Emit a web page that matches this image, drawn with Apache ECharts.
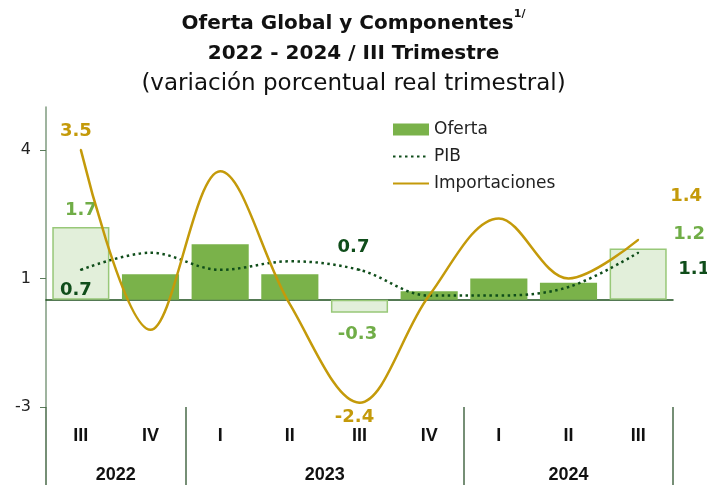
<!DOCTYPE html>
<html>
<head>
<meta charset="utf-8">
<script src="https://cdn.jsdelivr.net/npm/echarts@6/dist/echarts.min.js"></script>
<style>
  html, body { margin: 0; padding: 0; background: #fff; }
  #chart { width: 707px; height: 485px; }
</style>
</head>
<body>
<div id="chart"></div>
<script>
var quarters = ['III', 'IV', 'I', 'II', 'III', 'IV', 'I', 'II', 'III'];
var years = ['2022', '2022', '2023', '2023', '2023', '2023', '2024', '2024', '2024'];
var oferta = [1.7, 0.6, 1.3, 0.6, -0.3, 0.2, 0.5, 0.4, 1.2];
var pib = [0.7, 1.1, 0.7, 0.9, 0.7, 0.1, 0.1, 0.3, 1.1];
var importaciones = [3.5, -0.7, 3.0, -0.1, -2.4, 0.1, 1.9, 0.5, 1.4];
var yTicks = [-2.5, 0.5, 3.5];

// year groups under the quarter labels
var groups = [];
years.forEach(function (y, i) {
  var g = groups[groups.length - 1];
  if (!g || g.name !== y) groups.push({ name: y, start: i, end: i });
  else g.end = i;
});
var yearCenters = groups.map(function (g) { return (g.start + g.end) / 2; });
var yearBounds = groups.map(function (g) { return g.start - 0.5; }).concat([quarters.length - 0.5]);

var FONT = 'DejaVu Sans';
var GREEN = '#7ab24a', LIGHT = '#e2efda', LIGHT_BORDER = '#98c878';
var DARK = '#0f4d1a', GOLD = '#c49a0a';

// label placement for the highlighted points (index -> label options)
var ofertaLabels = {
  0: { position: 'top', offset: [0, -3] },
  4: { position: 'bottom', offset: [-2, 8] },
  8: { position: 'top', offset: [51, 0] }
};
var pibLabels = {
  0: { position: 'bottom', offset: [-5, 5] },
  4: { position: 'top', offset: [-6, -8] },
  8: { position: 'top', offset: [56, 32] }
};
var impLabels = {
  0: { position: 'top', offset: [-5, -4] },
  4: { position: 'bottom', offset: [-5, 0] },
  8: { position: 'top', offset: [48, -29] }
};

function lineData(values, color, labels) {
  return values.map(function (v, i) {
    var item = { value: v };
    if (labels[i]) {
      item.symbol = 'circle';
      item.label = Object.assign({
        show: true, color: color, fontFamily: FONT, fontWeight: 'bold', fontSize: 18,
        formatter: function (p) { return p.value.toFixed(1); }
      }, labels[i]);
    }
    return item;
  });
}

var barData = oferta.map(function (v, i) {
  var item = { value: v };
  if (quarters[i] === 'III') {
    item.itemStyle = { color: LIGHT, borderColor: LIGHT_BORDER, borderWidth: 1.5 };
  }
  if (ofertaLabels[i]) {
    item.label = Object.assign({
      show: true, color: '#70ad47', fontFamily: FONT, fontWeight: 'bold', fontSize: 18,
      formatter: function (p) { return p.value.toFixed(1); }
    }, ofertaLabels[i]);
  }
  return item;
});

var chart = echarts.init(document.getElementById('chart'));
var option = {
  animation: false,
  title: {
    left: 'center',
    top: 4,
    text: '{b|Oferta Global y Componentes}{sup|1/}\n{b|2022 - 2024 / III Trimestre}\n{n|(variación porcentual real trimestral)}',
    textStyle: {
      rich: {
        b: { fontFamily: FONT, fontWeight: 'bold', fontSize: 20, color: '#111', lineHeight: 30 },
        sup: { fontFamily: FONT, fontWeight: 'bold', fontSize: 11, color: '#111', verticalAlign: 'top', lineHeight: 22 },
        n: { fontFamily: FONT, fontWeight: 'normal', fontSize: 23, color: '#111', lineHeight: 30 }
      }
    }
  },
  legend: {
    orient: 'vertical',
    left: 387,
    top: 116,
    itemWidth: 36,
    itemHeight: 12,
    itemGap: 10,
    textStyle: { fontFamily: FONT, fontSize: 17, color: '#222', lineHeight: 15 },
    data: [
      { name: 'Oferta', icon: 'rect' },
      { name: 'PIB', itemStyle: { opacity: 0 } },
      { name: 'Importaciones', itemStyle: { opacity: 0 } }
    ]
  },
  grid: { left: 46, right: 34, top: 107, bottom: 78 },
  xAxis: [
    {
      type: 'category',
      data: quarters,
      position: 'bottom',
      axisLine: { show: false, onZero: false },
      axisTick: { show: false },
      axisLabel: { margin: 20, fontFamily: 'Liberation Sans', fontWeight: 'bold', fontSize: 18, color: '#111' }
    },
    {
      type: 'category',
      data: quarters,
      position: 'bottom',
      axisLine: { show: true, onZero: true, lineStyle: { color: '#1b4d1b', width: 1.5 } },
      axisTick: { show: false },
      axisLabel: { show: false }
    },
    {
      type: 'value',
      min: -0.5,
      max: quarters.length - 0.5,
      position: 'bottom',
      splitLine: { show: false },
      axisLine: { show: false, onZero: false },
      axisTick: {
        show: true, inside: false, length: 78, customValues: yearBounds,
        lineStyle: { color: '#4a6b4a', width: 1.5 }
      },
      axisLabel: {
        margin: 59, customValues: yearCenters,
        fontFamily: 'Liberation Sans', fontWeight: 'bold', fontSize: 18, color: '#111',
        formatter: function (v) {
          var k = yearCenters.indexOf(v);
          return k >= 0 ? groups[k].name : '';
        }
      }
    }
  ],
  yAxis: {
    type: 'value',
    min: -2.5,
    max: 4.5,
    splitLine: { show: false },
    axisLine: { show: true, onZero: false, lineStyle: { color: '#7f9b7f', width: 1.5 } },
    axisTick: { show: true, length: 6, customValues: yTicks, lineStyle: { color: '#5a7a5a' } },
    axisLabel: {
      customValues: yTicks, margin: 15, fontFamily: FONT, fontSize: 16, color: '#222',
      formatter: function (v) { return String(Math.sign(v) * Math.round(Math.abs(v))); }
    }
  },
  series: [
    {
      name: 'Oferta',
      type: 'bar',
      xAxisIndex: 0,
      barCategoryGap: '18%',
      itemStyle: { color: GREEN },
      data: barData
    },
    {
      name: 'PIB',
      type: 'line',
      xAxisIndex: 0,
      smooth: 0.35,
      symbol: 'none',
      symbolSize: 2,
      itemStyle: { color: DARK },
      lineStyle: { color: DARK, width: 2.5, type: [2.5, 3.5] },
      data: lineData(pib, DARK, pibLabels),
      z: 3
    },
    {
      name: 'Importaciones',
      type: 'line',
      xAxisIndex: 0,
      smooth: 0.35,
      symbol: 'none',
      symbolSize: 2,
      itemStyle: { color: GOLD },
      lineStyle: { color: GOLD, width: 2.5 },
      data: lineData(importaciones, GOLD, impLabels),
      z: 4
    }
  ]
};
chart.setOption(option);
</script>
</body>
</html>
